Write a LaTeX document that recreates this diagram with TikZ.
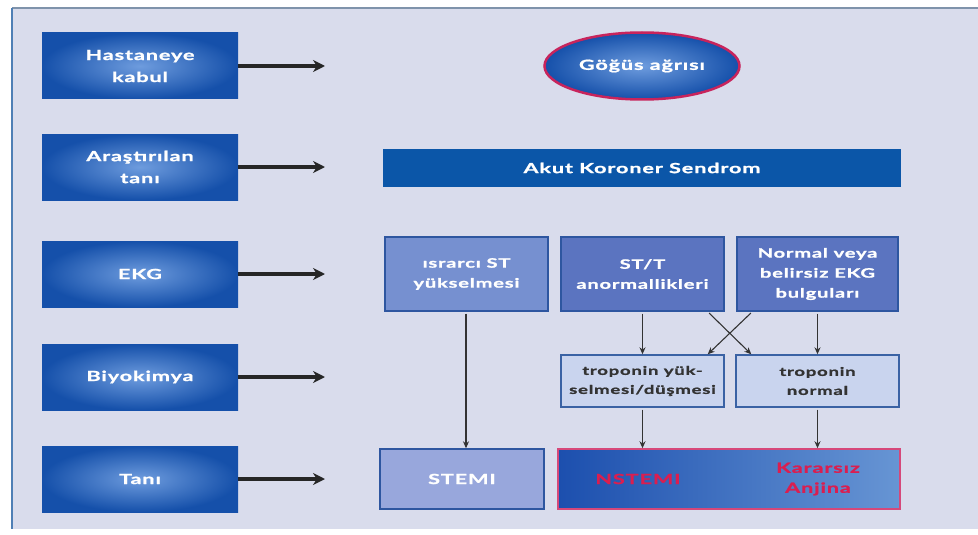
\documentclass[tikz,border=0pt]{standalone}
\usepackage{fontspec}
\setmainfont{Lato}[FakeStretch=1.55, LetterSpace=6, BoldFeatures={FakeBold=1.2}]
\usetikzlibrary{arrows.meta,shapes.geometric,calc}

\definecolor{panel}{HTML}{D9DCEC}
\definecolor{frameTop}{HTML}{7F93AB}
\definecolor{frameLeft}{HTML}{4F7FB5}
\definecolor{stageIn}{HTML}{6E9CDE}
\definecolor{stageOut}{HTML}{1550AA}
\definecolor{barBlue}{HTML}{0B56A8}
\definecolor{ekgLight}{HTML}{7690D0}
\definecolor{ekgDark}{HTML}{5B74C0}
\definecolor{ekgEdge}{HTML}{2E56A0}
\definecolor{tropFill}{HTML}{C9D4EE}
\definecolor{tropEdge}{HTML}{3A62A4}
\definecolor{stemiFill}{HTML}{98A7DC}
\definecolor{crimson}{HTML}{C8245C}
\definecolor{pinkEdge}{HTML}{D6487A}
\definecolor{redText}{HTML}{DA1E50}
\definecolor{darkText}{HTML}{333333}
\definecolor{dxLeft}{HTML}{1C4FAE}
\definecolor{dxRight}{HTML}{6795D4}

\tikzset{
  stage/.style={rectangle, inner sep=0pt, minimum width=196, minimum height=66,
    inner color=stageIn, outer color=stageOut, text=white, align=center,
    font=\bfseries\fontsize{14}{22}\selectfont},
  bigarrow/.style={draw=black!85, line width=3.5pt, -{Stealth[length=12pt,width=12pt]}},
  ekgbox/.style={rectangle, inner sep=0pt, minimum height=74, draw=ekgEdge,
    line width=1.4pt, text=white, align=center,
    font=\bfseries\fontsize{13}{20}\selectfont},
  tropbox/.style={rectangle, inner sep=0pt, minimum width=163, minimum height=52,
    fill=tropFill, draw=tropEdge, line width=1.4pt, text=darkText, align=center,
    font=\bfseries\fontsize{12}{19}\selectfont},
  flow/.style={draw=darkText, line width=1.1pt, -{Stealth[length=7pt,width=6pt]},
    shorten <=2pt},
  redlabel/.style={text=redText, align=center, font=\bfseries\fontsize{14}{20}\selectfont}
}

\begin{document}
\begin{tikzpicture}[x=1pt,y=-1pt]
\useasboundingbox (0,0) rectangle (978,535);
% panel and frame
\fill[white] (0,0) rectangle (978,535);
\fill[panel] (12,8) rectangle (978,529);
\draw[frameTop, line width=2.5pt] (12,8) -- (978,8);
\draw[frameLeft, line width=2.5pt] (12,8) -- (12,529);

% stage labels on the left
\node[stage] (s1) at (140,66)  {Hastaneye\\kabul};
\node[stage] (s2) at (140,167) {Araştırılan\\tanı};
\node[stage] (s3) at (140,274) {EKG};
\node[stage] (s4) at (140,377) {Biyokimya};
\node[stage] (s5) at (140,479) {Tanı};

\coordinate (t1) at (325,66);
\coordinate (t2) at (325,167);
\coordinate (t3) at (325,274);
\coordinate (t4) at (325,377);
\coordinate (t5) at (325,479);
\foreach \i in {1,...,5} \draw[bigarrow] (s\i.east) -- (t\i);

% chest pain
\node[ellipse, inner sep=0pt, minimum width=195, minimum height=67,
  inner color=stageIn, outer color=stageOut, draw=crimson, line width=2.5pt,
  text=white, font=\bfseries\fontsize{14}{20}\selectfont] (gogus) at (642,66) {Göğüs ağrısı};

% acute coronary syndrome bar
\node[rectangle, inner sep=0pt, minimum width=518, minimum height=38, fill=barBlue,
  text=white, font=\bfseries\fontsize{14}{20}\selectfont] (aks) at (642,168) {Akut Koroner Sendrom};

% ECG findings
\node[ekgbox, fill=ekgLight, minimum width=163] (isr) at (466.5,274) {ısrarcı ST\\yükselmesi};
\node[ekgbox, fill=ekgDark, minimum width=163] (stt) at (642.5,274) {ST/T\\anormallikleri};
\node[ekgbox, fill=ekgDark, minimum width=161] (nrm) at (817.5,274) {Normal veya\\belirsiz EKG\\bulguları};

% troponin
\node[tropbox] (trop) at (642.5,381) {troponin yük-\\selmesi/düşmesi};
\node[tropbox] (tropn) at (817.5,381) {troponin\\normal};

% diagnoses
\node[rectangle, inner sep=0pt, minimum width=164, minimum height=60, fill=stemiFill,
  draw=ekgEdge, line width=1.4pt, text=white,
  font=\bfseries\fontsize{14}{20}\selectfont] (stemi) at (462,479) {STEMI};
\node[rectangle, inner sep=0pt, minimum width=342, minimum height=60,
  left color=dxLeft, right color=dxRight, draw=pinkEdge, line width=1.5pt] (nbox) at (729,479) {};
\node[redlabel] (nstemi) at (638,479) {NSTEMI};
\node[redlabel] (ua) at (818,479) {Kararsız\\Anjina};

% connectors
\draw[flow] (isr.south -| 466,0) -- (stemi.north -| 466,0);
\draw[flow] (stt.south) -- (trop.north);
\draw[flow] (nrm.south) -- (tropn.north);
\draw[flow] ([xshift=-17pt]stt.south east) -- ([xshift=16pt]tropn.north west);
\draw[flow] ([xshift=16pt]nrm.south west) -- ([xshift=-17pt]trop.north east);
\draw[flow] (trop.south) -- (nbox.north -| trop.south);
\draw[flow] (tropn.south) -- (nbox.north -| tropn.south);
\end{tikzpicture}
\end{document}
